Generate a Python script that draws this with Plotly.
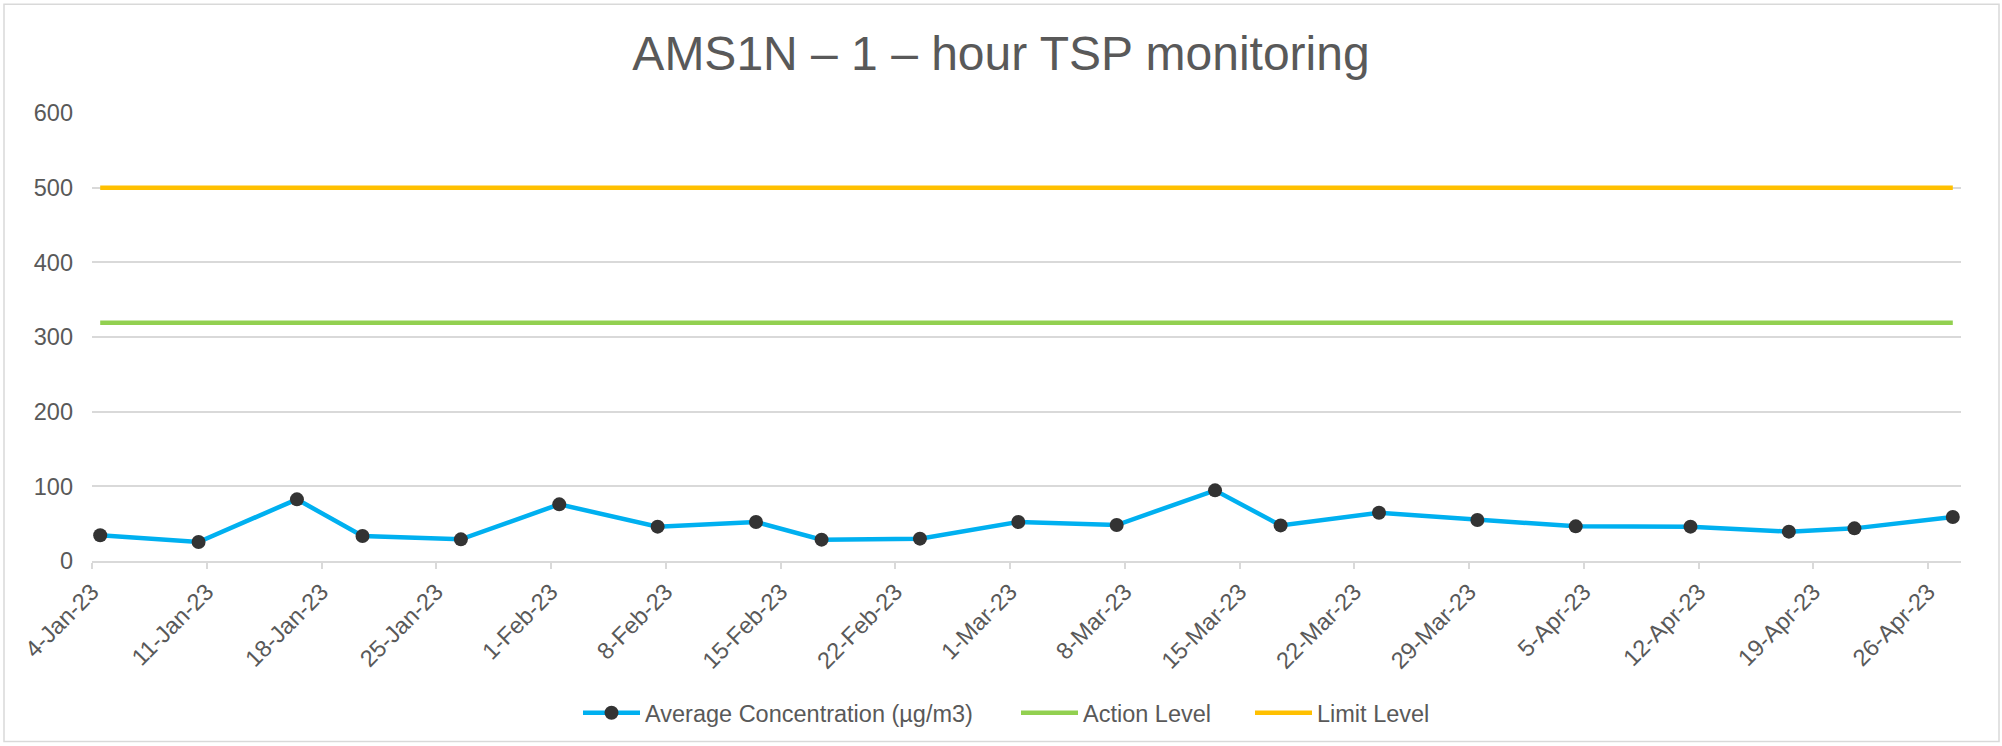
import pandas as pd
import plotly.graph_objects as go

# Sampling dates and 1-hour TSP results (µg/m3)
sample_dates = [
    "2023-01-04", "2023-01-10", "2023-01-16", "2023-01-20", "2023-01-26",
    "2023-02-01", "2023-02-07", "2023-02-13", "2023-02-17", "2023-02-23",
    "2023-03-01", "2023-03-07", "2023-03-13", "2023-03-17", "2023-03-23",
    "2023-03-29", "2023-04-04", "2023-04-11", "2023-04-17", "2023-04-21",
    "2023-04-27",
]
avg_concentration = [
    34.4, 25.5, 82.6, 33.5, 29.0, 75.9, 46.0, 52.2, 28.6, 29.9,
    52.2, 48.2, 94.6, 47.7, 64.7, 54.9, 46.4, 46.0, 39.3, 43.7, 58.9,
]
action_level = [319] * len(sample_dates)
limit_level = [500] * len(sample_dates)

# Weekly axis ticks
tick_dates = [
    "2023-01-04", "2023-01-11", "2023-01-18", "2023-01-25", "2023-02-01",
    "2023-02-08", "2023-02-15", "2023-02-22", "2023-03-01", "2023-03-08",
    "2023-03-15", "2023-03-22", "2023-03-29", "2023-04-05", "2023-04-12",
    "2023-04-19", "2023-04-26",
]
tick_labels = [
    "4-Jan-23", "11-Jan-23", "18-Jan-23", "25-Jan-23", "1-Feb-23",
    "8-Feb-23", "15-Feb-23", "22-Feb-23", "1-Mar-23", "8-Mar-23",
    "15-Mar-23", "22-Mar-23", "29-Mar-23", "5-Apr-23", "12-Apr-23",
    "19-Apr-23", "26-Apr-23",
]

# Each daily value sits in the middle of its day slot on the date axis
x_pos = pd.to_datetime(sample_dates) + pd.Timedelta(hours=12)

FONT = "Liberation Sans, Arial, sans-serif"
TEXT = "#595959"
GRID = "#d9d9d9"
FS = 23.5

# Plot-area pixel geometry (used to place legends / border in paper units)
PLOT_L, PLOT_R = 92, 2002 - 41
PLOT_T, PLOT_B = 113, 746 - 184


def px_to_paper_x(px):
    return (px - PLOT_L) / (PLOT_R - PLOT_L)


def px_to_paper_y(py):
    return (PLOT_B - py) / (PLOT_B - PLOT_T)


fig = go.Figure()
fig.add_trace(go.Scatter(
    x=x_pos, y=avg_concentration, mode="lines+markers",
    name="Average Concentration (µg/m3)",
    line=dict(color="#00B0F0", width=4.5),
    marker=dict(color="#333333", size=14),
    legend="legend",
))
fig.add_trace(go.Scatter(
    x=x_pos, y=action_level, mode="lines", name="Action Level",
    line=dict(color="#92D050", width=4.5),
    legend="legend2",
))
fig.add_trace(go.Scatter(
    x=x_pos, y=limit_level, mode="lines", name="Limit Level",
    line=dict(color="#FFC000", width=4.5),
    legend="legend3",
))

# Chart-area border
fig.add_shape(
    type="rect", xref="paper", yref="paper",
    x0=px_to_paper_x(4), x1=px_to_paper_x(1999),
    y0=px_to_paper_y(743), y1=px_to_paper_y(4),
    line=dict(color=GRID, width=1.5), layer="below",
)

legend_common = dict(
    orientation="h", xanchor="left", yanchor="middle",
    y=px_to_paper_y(713),
    font=dict(family=FONT, size=FS, color=TEXT),
    itemwidth=57, bgcolor="rgba(0,0,0,0)", borderwidth=0,
)

fig.update_layout(
    width=2002, height=746,
    margin=dict(l=PLOT_L, r=2002 - PLOT_R, t=PLOT_T, b=746 - PLOT_B, pad=0),
    paper_bgcolor="white", plot_bgcolor="white",
    font=dict(family=FONT, color=TEXT, size=FS),
    title=dict(
        text="AMS1N – 1 – hour TSP monitoring",
        x=0.5, xanchor="center", y=0.929, yanchor="middle",
        font=dict(family=FONT, size=48, color=TEXT),
    ),
    showlegend=True,
    legend=dict(x=px_to_paper_x(583 - 5), **legend_common),
    legend2=dict(x=px_to_paper_x(1021 - 5), **legend_common),
    legend3=dict(x=px_to_paper_x(1255 - 5), **legend_common),
    xaxis=dict(
        type="date", range=["2023-01-04", "2023-04-28"],
        tickmode="array", tickvals=tick_dates, ticktext=tick_labels,
        tickangle=-45, ticks="outside", ticklen=6, tickcolor=GRID, tickwidth=1.5,
        showline=True, linecolor=GRID, linewidth=1.5,
        showgrid=False, zeroline=False,
        tickfont=dict(family=FONT, size=FS, color=TEXT),
    ),
    yaxis=dict(
        range=[0, 600], tickvals=[0, 100, 200, 300, 400, 500, 600],
        showgrid=True, gridcolor=GRID, gridwidth=1.5,
        zeroline=False, showline=False, ticks="",
        ticklabelstandoff=18,
        tickfont=dict(family=FONT, size=FS, color=TEXT),
    ),
)

fig.write_html("out.html")
